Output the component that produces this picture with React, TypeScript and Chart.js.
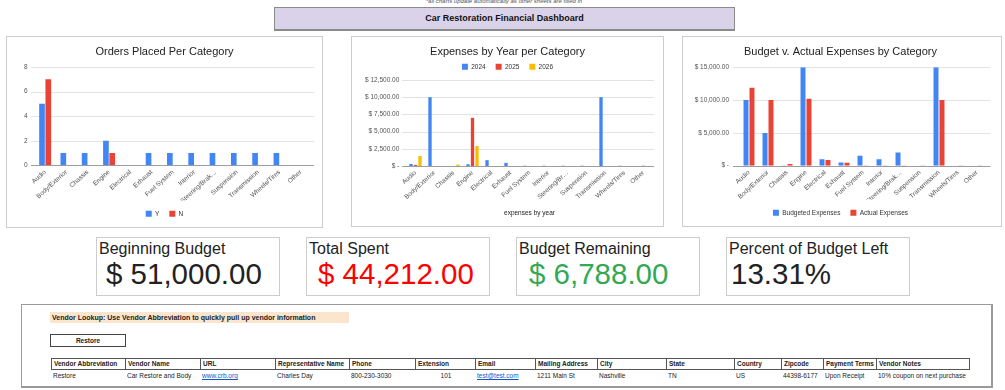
import React, { useEffect, useRef } from "react";
import { Chart, registerables } from "chart.js";

Chart.register(...registerables);

const FONT = "Arial, 'Liberation Sans', Helvetica, sans-serif";

// ---------- data ----------
const categories = [
  "Audio", "Body/Exterior", "Chassis", "Engine", "Electrical", "Exhaust", "Fuel System",
  "Interior", "Steering/Brakes", "Suspension", "Transmission", "Wheels/Tires", "Other",
];

const ordersY = [5, 1, 1, 2, 0, 1, 1, 1, 1, 1, 1, 1, 0];
const ordersN = [7, 0, 0, 1, 0, 0, 0, 0, 0, 0, 0, 0, 0];

const exp2024 = [300, 10000, 0, 250, 850, 450, 40, 40, 40, 40, 10000, 40, 0];
const exp2025 = [150, 0, 0, 7000, 0, 0, 0, 0, 0, 0, 0, 0, 40];
const exp2026 = [1450, 0, 200, 2900, 0, 0, 0, 0, 0, 0, 0, 0, 0];

const budgeted = [10000, 5000, 30, 15000, 1000, 500, 1500, 1000, 2000, 0, 15000, 0, 0];
const actual = [11900, 10000, 250, 10200, 850, 450, 40, 40, 40, 40, 10000, 40, 40];

const kpiLabels = ["Beginning Budget", "Total Spent", "Budget Remaining", "Percent of Budget Left"];
const kpiValues = ["$ 51,000.00", "$ 44,212.00", "$ 6,788.00", "13.31%"];
const kpiColors = ["#222222", "#ff0000", "#34a853", "#222222"];

const vendorHeaders = [
  "Vendor Abbreviation", "Vendor Name", "URL", "Representative Name", "Phone", "Extension", "Email",
  "Mailing Address", "City", "State", "Country", "Zipcode", "Payment Terms", "Vendor Notes",
];
const vendorRow = [
  "Restore", "Car Restore and Body", "www.crb.org", "Charles Day", "800-230-3030", "101", "test@test.com",
  "1211 Main St", "Nashville", "TN", "US", "44398-6177", "Upon Receipt", "10% coupon on next purchase",
];
const linkCols = [2, 6];
const centerCols = [5];

// ---------- styles ----------
const BLUE = "#4285f4";
const RED = "#ea4335";
const YELLOW = "#fbbc04";
const colX = [51, 125, 200, 275, 349, 415, 475, 535, 597, 666, 734, 781, 823, 876, 969];

const money = (v: number) =>
  v === 0 ? "$ -" : "$ " + v.toLocaleString("en-US", { minimumFractionDigits: 2, maximumFractionDigits: 2 });
const trunc = (s: string, limit: number, cut: number) => (s.length > limit ? s.slice(0, cut) + "…" : s);

const extGrid = {
  id: "extGrid",
  beforeDatasetsDraw(chart: any, _args: any, opts: any) {
    const y = chart.scales.y;
    const { left, right } = chart.chartArea;
    const ctx = chart.ctx;
    ctx.save();
    ctx.lineWidth = 1;
    y.ticks.forEach((t: any) => {
      const py = Math.round(y.getPixelForValue(t.value)) + 0.5;
      ctx.strokeStyle = t.value === 0 ? "#9e9e9e" : "#e3e3e3";
      ctx.beginPath();
      ctx.moveTo(left - opts.left, py);
      ctx.lineTo(right + opts.right, py);
      ctx.stroke();
    });
    ctx.restore();
  },
};

function makeOptions(o: any) {
  return {
    responsive: false,
    animation: false,
    events: [],
    layout: { padding: { left: o.padL, right: o.padR, top: 0, bottom: 0 } },
    plugins: {
      title: {
        display: true,
        text: o.title,
        color: "#222",
        font: { family: FONT, size: 11, weight: "normal", lineHeight: 1 },
        padding: { top: o.titleTop, bottom: o.titleBottom },
      },
      legend: {
        position: o.legend,
        labels: { boxWidth: 6, boxHeight: 6, padding: 10, color: "#333", font: { family: FONT, size: 6.5 } },
      },
      tooltip: { enabled: false },
      extGrid: { left: o.extL, right: o.extR },
    },
    scales: {
      x: {
        grid: { display: false, drawTicks: false },
        border: { display: false },
        ticks: {
          autoSkip: false,
          minRotation: 42,
          maxRotation: 42,
          padding: 3,
          color: "#555",
          font: { family: FONT, size: 6.5 },
          callback: (_v: any, i: number) => trunc(categories[i], 13, o.cut),
        },
        title: o.xTitle
          ? {
              display: true,
              text: o.xTitle,
              color: "#222",
              font: { family: FONT, size: 6.5, lineHeight: 1.2 },
              padding: { top: 0, bottom: o.xTitleBottom },
            }
          : { display: false },
        afterFit: (s: any) => {
          s.height = o.xHeight;
        },
      },
      y: {
        min: 0,
        max: o.yMax,
        grid: { display: false, drawTicks: false },
        border: { display: false },
        ticks: {
          stepSize: o.yStep,
          padding: o.yPad,
          color: "#555",
          font: { family: FONT, size: 6.5 },
          callback: (v: any) => o.yFmt(Number(v)),
        },
        afterFit: (s: any) => {
          s.width = o.yWidth;
        },
      },
    },
  };
}

const buildOrders = () => ({
  type: "bar",
  data: {
    labels: categories,
    datasets: [
      { label: "Y", data: ordersY, backgroundColor: BLUE, categoryPercentage: 0.59, barPercentage: 0.9 },
      { label: "N", data: ordersN, backgroundColor: RED, categoryPercentage: 0.59, barPercentage: 0.9 },
    ],
  },
  options: makeOptions({
    title: "Orders Placed Per Category", titleTop: 9.5, titleBottom: 9.5, legend: "bottom",
    padL: 10.5, padR: 10.5, yWidth: 17, yPad: 7, xHeight: 35.2, yMax: 8, yStep: 2, yFmt: (v: number) => String(v),
    cut: 13, extL: 3.5, extR: 2.5,
  }),
  plugins: [extGrid],
});

const buildExpenses = () => ({
  type: "bar",
  data: {
    labels: categories,
    datasets: [
      { label: "2024", data: exp2024, backgroundColor: BLUE, categoryPercentage: 0.71, barPercentage: 0.74 },
      { label: "2025", data: exp2025, backgroundColor: RED, categoryPercentage: 0.71, barPercentage: 0.74 },
      { label: "2026", data: exp2026, backgroundColor: YELLOW, categoryPercentage: 0.71, barPercentage: 0.74 },
    ],
  },
  options: makeOptions({
    title: "Expenses by Year per Category", titleTop: 9.5, titleBottom: -4, legend: "top",
    padL: 10, padR: 10, yWidth: 44, yPad: 6.7, xHeight: 60, yMax: 12500, yStep: 2500, yFmt: money,
    cut: 11, extL: 4, extR: 1, xTitle: "expenses by year", xTitleBottom: 9,
  }),
  plugins: [extGrid],
});

const buildBudget = () => ({
  type: "bar",
  data: {
    labels: categories,
    datasets: [
      { label: "Budgeted Expenses", data: budgeted, backgroundColor: BLUE, categoryPercentage: 0.63, barPercentage: 0.83 },
      { label: "Actual Expenses", data: actual, backgroundColor: RED, categoryPercentage: 0.63, barPercentage: 0.83 },
    ],
  },
  options: makeOptions({
    title: "Budget v. Actual Expenses by Category", titleTop: 9.5, titleBottom: 9.8, legend: "bottom",
    padL: 11.5, padR: 14.5, yWidth: 45, yPad: 10.5, xHeight: 33.8, yMax: 15000, yStep: 5000, yFmt: money,
    cut: 13, extL: 6.5, extR: 4,
  }),
  plugins: [extGrid],
});

function ChartBox({ left, top, width, height, build }: any) {
  const ref = useRef<HTMLCanvasElement>(null);
  useEffect(() => {
    const c = new Chart(ref.current as HTMLCanvasElement, build());
    return () => c.destroy();
  }, []);
  return (
    <div
      style={{
        position: "absolute", left, top, width: width + 2, height: height + 2, boxSizing: "border-box",
        border: "1px solid #cccccc", background: "#fff",
      }}
    >
      <canvas ref={ref} width={width} height={height} style={{ display: "block", width, height }} />
    </div>
  );
}

export default function App() {
  return (
    <div
      style={{
        position: "absolute", left: 0, top: 0, width: 1005, height: 390, overflow: "hidden",
        background: "#fff", fontFamily: FONT,
      }}
    >
      <div
        style={{
          position: "absolute", left: 274, top: -2, width: 460, textAlign: "center", fontSize: 6,
          lineHeight: "7px", fontStyle: "italic", color: "#555",
        }}
      >
        *all charts update automatically as other sheets are filled in
      </div>
      <div
        style={{
          position: "absolute", left: 274, top: 7, width: 461, height: 24, boxSizing: "border-box",
          background: "#d9d2e9", border: "1px solid #8a8a8a", borderBottomWidth: 2, textAlign: "center",
          fontSize: 9, fontWeight: "bold", lineHeight: "21px", color: "#111",
        }}
      >
        Car Restoration Financial Dashboard
      </div>

      <ChartBox left={6} top={36} width={315} height={190} build={buildOrders} />
      <ChartBox left={351} top={36} width={311} height={189} build={buildExpenses} />
      <ChartBox left={682} top={36} width={318} height={189} build={buildBudget} />

      {kpiLabels.map((label, i) => (
        <div
          key={label}
          style={{
            position: "absolute", left: 96 + i * 210, top: 237, width: 184, height: 59, boxSizing: "border-box",
            border: "1px solid #cccccc", background: "#fff",
          }}
        >
          <div style={{ position: "absolute", left: 2, top: 2, fontSize: 16, lineHeight: "18px", color: "#222", whiteSpace: "nowrap" }}>
            {label}
          </div>
          <div
            style={{
              position: "absolute", left: [9, 11, 12, 4][i], top: 21, fontSize: 29.5, lineHeight: "30px",
              color: kpiColors[i], whiteSpace: "nowrap",
            }}
          >
            {kpiValues[i]}
          </div>
        </div>
      ))}

      <div
        style={{
          position: "absolute", left: 21, top: 304, width: 972, height: 84, boxSizing: "border-box",
          border: "1px solid #9a9a9a", borderRightWidth: 2, borderBottomWidth: 2,
        }}
      />
      <div
        style={{
          position: "absolute", left: 50, top: 312, width: 299, height: 11, background: "#fce5cd",
          fontSize: 7, fontWeight: "bold", lineHeight: "11px", paddingLeft: 2, boxSizing: "border-box",
          color: "#222", whiteSpace: "nowrap",
        }}
      >
        Vendor Lookup: Use Vendor Abbreviation to quickly pull up vendor information
      </div>
      <div
        style={{
          position: "absolute", left: 50, top: 334, width: 76, height: 13, boxSizing: "border-box",
          border: "1px solid #444", fontSize: 6.5, fontWeight: "bold", lineHeight: "11px", textAlign: "center",
          color: "#222",
        }}
      >
        {vendorRow[0]}
      </div>
      {vendorHeaders.map((h, i) => (
        <div
          key={h}
          style={{
            position: "absolute", left: colX[i], top: 358, width: colX[i + 1] - colX[i] + 1, height: 12,
            boxSizing: "border-box", border: "1px solid #555", fontSize: 6.5, fontWeight: "bold",
            lineHeight: "10px", paddingLeft: 2, color: "#222", whiteSpace: "nowrap", overflow: "hidden",
          }}
        >
          {h}
        </div>
      ))}
      {vendorRow.map((v, i) => (
        <div
          key={i}
          style={{
            position: "absolute", left: colX[i], top: 370, width: colX[i + 1] - colX[i], height: 11,
            fontSize: 6.5, lineHeight: "11px", paddingLeft: 2, boxSizing: "border-box", whiteSpace: "nowrap",
            textAlign: centerCols.includes(i) ? "center" : "left",
            color: linkCols.includes(i) ? "#1155cc" : "#222",
            textDecoration: linkCols.includes(i) ? "underline" : "none",
          }}
        >
          {v}
        </div>
      ))}
    </div>
  );
}
